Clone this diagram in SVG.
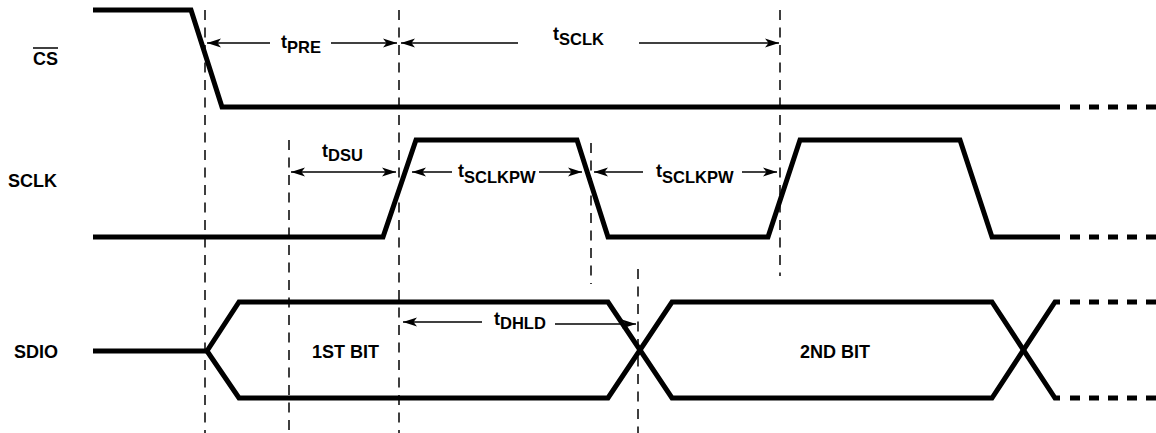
<svg xmlns="http://www.w3.org/2000/svg" width="1156" height="433" viewBox="0 0 1156 433">
<defs>
<style>
.sig{fill:none;stroke:#000;stroke-width:5;stroke-linejoin:miter;stroke-linecap:butt}
.ext{fill:none;stroke:#000;stroke-width:5;stroke-dasharray:10 9}
.grid{fill:none;stroke:#000;stroke-width:1.5;stroke-dasharray:10 7.5}
.dim{fill:none;stroke:#000;stroke-width:1.6}
.lbl{font-family:"Liberation Sans",Arial,sans-serif;font-weight:bold;font-size:18px;fill:#000}
.t{font-family:"Liberation Sans",Arial,sans-serif;font-weight:bold;font-size:18px;fill:#000}
.sub{font-size:16.5px}
</style>
<marker id="ah" markerUnits="userSpaceOnUse" markerWidth="18" markerHeight="12" viewBox="-15 -6 17 12" refX="0" refY="0" orient="auto-start-reverse">
<path d="M0,0 L-14,-4.5 L-10.5,0 L-14,4.5 Z" fill="#000"/>
</marker>
</defs>
<rect width="1156" height="433" fill="#fff"/>

<g id="gridlines">
<line class="grid" x1="205" y1="10" x2="205" y2="433"/>
<line class="grid" x1="399" y1="10" x2="399" y2="433"/>
<line class="grid" x1="289" y1="140" x2="289" y2="433"/>
<line class="grid" x1="591" y1="143" x2="591" y2="284"/>
<line class="grid" x1="780" y1="10" x2="780" y2="276"/>
<line class="grid" x1="638" y1="269" x2="638" y2="433"/>
</g>

<g id="cs">
<polyline class="sig" points="93,10 191,10 222,107 1060,107"/>
<line class="ext" x1="1070" y1="107" x2="1156" y2="107"/>
<text class="lbl" x="33" y="65">CS</text>
<line x1="33" y1="48" x2="58" y2="48" stroke="#000" stroke-width="1.5"/>
</g>

<g id="sclk">
<polyline class="sig" points="93,237 383,237 416,140 577,140 608,237 768,237 800,140 960,140 992,237 1060,237"/>
<line class="ext" x1="1070" y1="237" x2="1156" y2="237"/>
<text class="lbl" x="8" y="187">SCLK</text>
</g>

<g id="sdio">
<polyline class="sig" points="93,351 207,351"/>
<polyline class="sig" points="207,351 239,302 608,302 672,398 992,398 1055,302 1060,302"/>
<polyline class="sig" points="207,351 239,398 608,398 672,302 992,302 1055,398 1060,398"/>
<line class="ext" x1="1070" y1="302" x2="1156" y2="302"/>
<line class="ext" x1="1070" y1="398" x2="1156" y2="398"/>
<text class="lbl" x="14" y="358">SDIO</text>
<text class="lbl" x="312" y="358">1ST BIT</text>
<text class="lbl" x="800" y="358">2ND BIT</text>
</g>

<g id="connectors">
<line class="dim" x1="207" y1="43" x2="270" y2="43" marker-start="url(#ah)"/>
<line class="dim" x1="331" y1="43" x2="397" y2="43" marker-end="url(#ah)"/>
<line class="dim" x1="401" y1="43" x2="518" y2="43" marker-start="url(#ah)"/>
<line class="dim" x1="639" y1="43" x2="779" y2="43" marker-end="url(#ah)"/>
<line class="dim" x1="291" y1="172" x2="396" y2="172" marker-start="url(#ah)" marker-end="url(#ah)"/>
<line class="dim" x1="412" y1="172" x2="452" y2="172" marker-start="url(#ah)"/>
<line class="dim" x1="539" y1="172" x2="582" y2="172" marker-end="url(#ah)"/>
<line class="dim" x1="594" y1="172" x2="643" y2="172" marker-start="url(#ah)"/>
<line class="dim" x1="742" y1="172" x2="777" y2="172" marker-end="url(#ah)"/>
<line class="dim" x1="403" y1="322" x2="482" y2="322" marker-start="url(#ah)"/>
<line class="dim" x1="555" y1="324" x2="636" y2="324" marker-end="url(#ah)"/>
</g>

<g id="labels">
<text class="t" x="281" y="48">t<tspan class="sub" dy="5">PRE</tspan></text>
<text class="t" x="553" y="40">t<tspan class="sub" dy="5">SCLK</tspan></text>
<text class="t" x="322" y="157">t<tspan class="sub" dy="4">DSU</tspan></text>
<text class="t" x="458" y="177">t<tspan class="sub" dy="6">SCLKPW</tspan></text>
<text class="t" x="656" y="177">t<tspan class="sub" dy="6">SCLKPW</tspan></text>
<text class="t" x="494" y="325">t<tspan class="sub" dy="4">DHLD</tspan></text>
</g>
</svg>
